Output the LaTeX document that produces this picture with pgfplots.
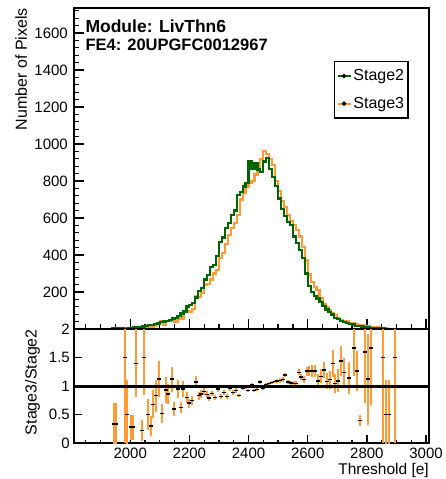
\documentclass[border=0pt]{standalone}
\usepackage{fontspec}
\setmainfont{Liberation Sans}
\usepackage{pgfplots}
\usepackage{pgfplotstable}
\pgfplotsset{compat=1.18}

\definecolor{s2green}{RGB}{0,102,0}
\definecolor{s3orange}{RGB}{255,154,53}
\newcommand\tkfont{\fontsize{15bp}{18bp}\selectfont}
\newcommand\labfont{\fontsize{16bp}{19bp}\selectfont}

% threshold histograms, 10 e bins (left edge)
\pgfplotstableread{
x g o
1900 0 0
1910 1 0
1920 1 0
1930 2 1
1940 3 1
1950 2 1
1960 3 1
1970 4 2
1980 2 3
1990 5 2
2000 7 2
2010 8 3
2020 9 6
2030 12 4
2040 14 8
2050 17 9
2060 20 10
2070 22 14
2080 25 19
2090 30 28
2100 36 40
2110 40 21
2120 45 42
2130 50 45
2140 57 58
2150 60 38
2160 70 67
2170 84 54
2180 95 92
2190 122 98
2200 131 95
2210 140 106
2220 170 180
2230 205 172
2240 222 193
2250 268 240
2260 290 245
2270 335 268
2280 345 300
2290 395 318
2300 472 385
2310 495 410
2320 545 460
2330 575 510
2340 615 545
2350 640 575
2360 725 615
2370 742 700
2380 770 735
2390 790 770
2400 905 790
2410 865 800
2420 895 835
2430 862 855
2440 848 920
2450 905 960
2460 925 945
2470 865 920
2480 820 885
2490 775 800
2500 705 745
2510 650 690
2520 610 660
2530 578 615
2540 560 585
2550 500 560
2560 465 535
2570 428 500
2580 385 445
2590 300 370
2600 232 295
2610 200 255
2620 180 228
2630 165 210
2640 145 165
2650 125 135
2660 105 120
2670 92 100
2680 78 88
2690 60 75
2700 52 58
2710 45 50
2720 38 45
2730 34 40
2740 29 34
2750 24 30
2760 18 28
2770 15 23
2780 13 20
2790 11 16
2800 8 14
2810 6 12
2820 5 10
2830 4 8
2840 3 6
2850 3 4
2860 2 3
2870 2 2
2880 1 2
2890 1 1
2900 0 0
}\hist

% ratio Stage3/Stage2 with errors
\pgfplotstableread{
x r e
1944 0.33 0.38
1952 0.33 0.38
1981 1.50 1.50
1989 0.50 0.60
2003 0.28 0.22
2011 0.28 0.22
2019 1.40 0.60
2039 0.22 0.18
2048 1.50 0.65
2059 0.50 0.28
2069 0.30 0.18
2078 0.68 0.25
2087 0.83 0.28
2098 1.12 0.32
2109 0.52 0.17
2120 0.93 0.22
2128 0.86 0.18
2140 1.12 0.22
2149 0.60 0.12
2160 0.95 0.16
2171 0.62 0.10
2180 0.95 0.14
2191 0.80 0.09
2198 0.70 0.08
2210 0.75 0.08
2221 1.07 0.10
2231 0.83 0.07
2240 0.86 0.07
2249 0.90 0.06
2259 0.85 0.06
2268 0.79 0.05
2277 0.87 0.05
2287 0.80 0.05
2298 0.95 0.05
2307 0.82 0.04
2318 0.89 0.04
2327 0.82 0.04
2338 0.96 0.04
2348 0.89 0.04
2357 0.92 0.04
2368 0.83 0.03
2380 0.96 0.03
2391 0.97 0.03
2399 0.92 0.03
2410 1.02 0.03
2417 0.92 0.03
2428 0.94 0.03
2440 1.07 0.03
2450 0.96 0.03
2459 1.02 0.03
2469 1.04 0.03
2479 1.06 0.03
2488 1.08 0.03
2497 1.09 0.03
2507 1.10 0.04
2517 1.11 0.04
2524 1.19 0.04
2534 1.07 0.04
2542 1.05 0.04
2552 1.04 0.04
2561 1.04 0.04
2570 1.24 0.05
2578 1.16 0.05
2587 1.11 0.06
2597 1.26 0.08
2606 1.26 0.09
2615 1.26 0.10
2625 1.26 0.11
2636 1.09 0.12
2645 1.17 0.12
2654 1.28 0.14
2665 1.08 0.14
2675 1.11 0.16
2684 1.40 0.24
2693 1.04 0.17
2703 1.09 0.20
2714 1.44 0.26
2721 1.24 0.25
2738 1.14 0.28
2757 1.67 0.50
2766 1.26 0.35
2776 0.39 0.10
2794 1.60 0.90
2805 1.12 0.80
2815 1.67 1.00
2855 1.50 1.50
2863 0.50 0.60
2874 0.50 0.60
2894 1.50 1.50
}\ratio

\pgfplotsset{
  rootstyle/.style={
    scale only axis, width=355bp,
    xmin=1810, xmax=3010,
    clip mode=individual,
    axis line style={line width=1.6bp},
    every tick/.style={black, line width=1.3bp},
    tick align=inside, xtick pos=bottom, ytick pos=left,
    xtick={2000,2200,...,3000}, minor xtick={1850,1900,...,3000},
    scaled ticks=false,
    /pgf/number format/set thousands separator={},
    /pgf/number format/assume math mode=true,
    xticklabel={\tkfont\pgfmathprintnumber{\tick}},
    yticklabel={\tkfont\pgfmathprintnumber{\tick}},
  },
}

\begin{document}
\begin{tikzpicture}
\path[use as bounding box] (-74bp,-150bp) rectangle (372bp,329bp);

\begin{axis}[rootstyle,
  at={(0,0)}, anchor=south west, height=321bp,
  ymin=0, ymax=1735,
  ytick={200,400,...,1600}, minor ytick={40,80,...,1720},
  xticklabels={},
  major tick length=10bp, minor tick length=5bp,
  yticklabel style={inner sep=0pt, xshift=-6bp},
  reverse legend,
  legend style={at={(rel axis cs:0.732,0.835)}, anchor=north west,
    draw=black, line width=1.5bp, inner xsep=2bp, inner ysep=6bp,
    row sep=11bp, cells={anchor=west, font=\labfont},
    font=\labfont},
  legend image code/.code={
    \draw[#1, line width=1.8bp] (0bp,0bp) -- (13bp,0bp);
    \fill[black] (6.5bp,0bp) circle (0.9bp);},
]
\addplot[const plot, color=s3orange, line width=2.2bp] table[x=x, y=o] {\hist};
\addlegendentry{Stage3}
\addplot[const plot, color=s2green, line width=2.2bp] table[x=x, y=g] {\hist};
\addlegendentry{Stage2}
\node[anchor=base west, font=\fontsize{17.5bp}{20bp}\selectfont\bfseries]
  at (rel axis cs:0.0225,0.923) {Module: LivThn6};
\node[anchor=base west, font=\fontsize{16.5bp}{20bp}\selectfont\bfseries]
  at (rel axis cs:0.0225,0.867) {FE4: 20UPGFC0012967};
\node[rotate=90, anchor=base east, font=\labfont, inner sep=0pt]
  at (axis description cs:-0.1324,1) {Number of Pixels};
\end{axis}

\begin{axis}[rootstyle,
  at={(0,0)}, anchor=north west, height=114bp,
  ymin=0, ymax=2,
  ytick={0,0.5,1,1.5,2},
  major tick length=8bp, minor tick length=3bp,
  yticklabel style={inner sep=0pt, xshift=-4bp},
  xticklabel style={inner sep=0pt, yshift=-5bp},
]
\addplot[only marks, mark=-, mark size=2bp, black, line width=1.4bp,
  error bars/.cd, y dir=both, y explicit, error mark=none,
  error bar style={s3orange, line width=2bp}]
  table[x=x, y=r, y error=e] {\ratio};
\addplot[black, line width=3bp] coordinates {(1810,1) (3010,1)};
\node[rotate=90, anchor=base east, font=\labfont, inner sep=0pt]
  at (axis description cs:-0.1056,1) {Stage3/Stage2};
\node[anchor=base east, font=\fontsize{15.5bp}{19bp}\selectfont, inner sep=0pt]
  at (axis description cs:1,-0.272) {Threshold [e]};
\end{axis}
\end{tikzpicture}
\end{document}
